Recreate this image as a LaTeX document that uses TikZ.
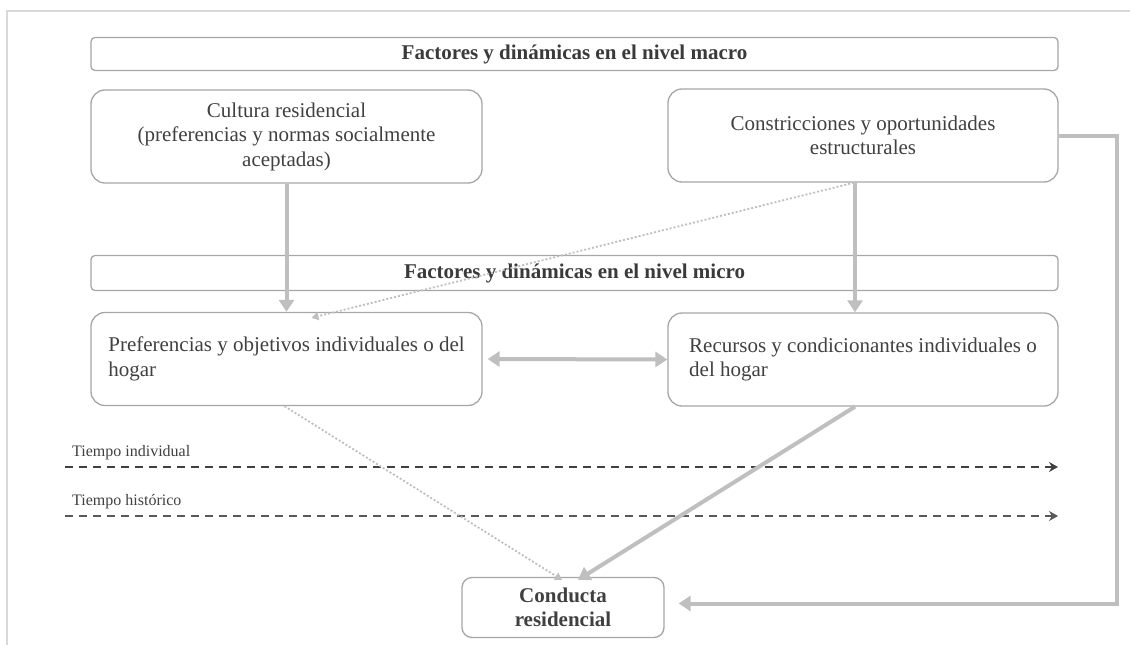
\documentclass[tikz,border=0pt]{standalone}
\usepackage{fontspec}
\setmainfont{Liberation Serif}
\usetikzlibrary{arrows.meta,calc}
\definecolor{txt}{HTML}{404040}
\definecolor{boxline}{HTML}{A6A6A6}
\definecolor{arrowgray}{HTML}{BFBFBF}
\definecolor{frame}{HTML}{D9D9D9}
\definecolor{dashA}{HTML}{404040}
\definecolor{dashB}{HTML}{595959}
\tikzset{
  header/.style={draw=boxline, line width=1.3pt, rounded corners=4pt, minimum width=967pt, minimum height=33pt, inner sep=0pt,
    font=\fontsize{21}{24.5}\selectfont\bfseries, text=txt!90!black},
  bigbox/.style={draw=boxline, line width=1.3pt, rounded corners=14pt, minimum height=93pt, inner sep=0pt,
    font=\fontsize{21}{24.5}\selectfont, text=txt},
  endbox/.style={draw=boxline, line width=1.3pt, rounded corners=10pt, minimum width=202pt, minimum height=60pt, inner sep=0pt,
    font=\fontsize{21}{24.5}\selectfont\bfseries, text=txt, align=center},
  bigarrow/.style={draw=arrowgray, line width=4pt, line join=miter, -{Triangle[width=15pt,length=12pt]}},
  bigboth/.style={draw=arrowgray, line width=4pt, {Triangle[width=15pt,length=12pt]}-{Triangle[width=15pt,length=12pt]}},
  dotarrow/.style={draw=arrowgray, line width=1.8pt, dash pattern=on 2pt off 2pt, -{Triangle[width=8pt,length=7pt]}},
  timeline/.style={line width=1.5pt, dash pattern=on 8pt off 6pt, -{Stealth[width=10pt,length=9pt,inset=3pt]}},
  timelabel/.style={anchor=west, inner sep=0pt, font=\fontsize{16}{19}\selectfont, text=txt}
}
\begin{document}
\begin{tikzpicture}[x=1pt,y=-1pt]
\useasboundingbox (0,0) rectangle (1130,645);
% outer frame (partly visible)
\draw[frame, line width=2pt] (6.5,645) -- (6.5,10.5) -- (1130,10.5);

\node[header] (macro) at (574.5,54) {Factores y dinámicas en el nivel macro};
\node[bigbox, minimum width=391pt, align=center] (cultura) at (286.5,136.5)
  {Cultura residencial\\(preferencias y normas socialmente\\aceptadas)};
\node[bigbox, minimum width=390pt, align=center] (constr) at (863,135.5)
  {Constricciones y oportunidades\\estructurales};

\node[header, minimum height=35pt] (micro) at (574.5,273) {Factores y dinámicas en el nivel micro};
\node[bigbox, minimum width=391pt, align=left] (pref) at (286.5,359)
  {Preferencias y objetivos individuales o del\\hogar};
\node[bigbox, minimum width=390pt, align=left] (recur) at (863,359.5)
  {Recursos y condicionantes individuales o\\del hogar};

\node[endbox] (conducta) at (563,607.5) {Conducta\\residencial};

% time lines
\node[timelabel] (tind) at (72,453) {Tiempo individual};
\coordinate (ta1) at (65,467);
\coordinate (ta2) at (1058,467);
\draw[timeline, draw=dashA] (ta1) -- (ta2);
\node[timelabel] (thist) at (72,502) {Tiempo histórico};
\coordinate (tb1) at (65,516);
\coordinate (tb2) at (1058,516);
\draw[timeline, draw=dashB] (tb1) -- (tb2);

% connectors
\draw[bigarrow] (cultura.south) -- (pref.north);
\draw[bigarrow] ([xshift=-8pt]constr.south) -- ([xshift=-8pt]recur.north);
\draw[dotarrow] ([xshift=-9pt]constr.south) -- ([xshift=25pt,yshift=-6pt]pref.north);
\draw[bigboth] ([xshift=5pt]pref.east) -- (recur.west);
\draw[bigarrow] ([xshift=-8pt]recur.south) -- ([xshift=15pt,yshift=-3pt]conducta.north);
\draw[dotarrow] ([xshift=-2pt]pref.south) -- ([xshift=-1pt,yshift=-3pt]conducta.north);
\coordinate (elbow) at (1117,603.5);
\draw[bigarrow] (constr.east) -| (elbow) -- ($(conducta.east |- elbow)+(14,0)$);
\end{tikzpicture}
\end{document}
